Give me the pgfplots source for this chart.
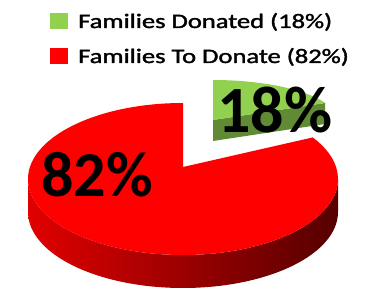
\documentclass[border=0pt]{standalone}
\usepackage{pgfplots}
\pgfplotsset{compat=1.18}
\usepackage{pgfplotstable}
\usepackage{fontspec}
\setmainfont{Carlito}
\newfontfamily\legfont[FakeBold=1.5]{Carlito}
\definecolor{redtop}{RGB}{255,0,0}
\definecolor{redL}{RGB}{225,0,0}
\definecolor{redR}{RGB}{85,0,0}
\definecolor{grntop}{RGB}{146,208,80}
\definecolor{grndark}{RGB}{96,138,52}
\pgfplotstableread{
label value
Donated 18
ToDonate 82
}\piedata
\pgfplotstablegetelem{0}{value}\of\piedata
\let\vA\pgfplotsretval
\pgfplotstablegetelem{1}{value}\of\piedata
\let\vB\pgfplotsretval
% slice boundary angle (true angle on the disc)
\pgfmathsetmacro\angA{90-3.6*\vA}
% perspective: disc centre seen above ellipse centre by d (in units of ry)
\pgfmathsetmacro\dd{0.158}
\pgfmathsetmacro\den{1+\dd*sin(\angA)}
\pgfmathsetmacro\tA{atan2((sin(\angA)+\dd)/\den, sqrt(1-\dd*\dd)*cos(\angA)/\den)}
\pgfmathsetmacro\tB{360+\tA}
\begin{document}
\begin{tikzpicture}
\begin{axis}[width=384pt,height=294pt,scale only axis,
  xmin=0,xmax=384,ymin=0,ymax=294,y dir=reverse,
  axis lines=none,clip=false]
\path (axis cs:0,0) rectangle (axis cs:384,294);
% green exploded slice: cut face then top face
\fill[grndark] (axis cs:213,120) -- ++(\angA:124pt and 40pt) -- ++(0,-21pt) -- (axis cs:213,141) -- cycle;
\fill[grntop] (axis cs:213,120) -- ++(0,40pt) arc[start angle=90,end angle=\angA,x radius=124pt,y radius=40pt] -- cycle;
% red slice side
\shade[left color=redL,right color=redR] (axis cs:28,179) arc[start angle=180,end angle=360,x radius=155pt,y radius=76pt] -- ++(0,-33pt) arc[start angle=360,end angle=180,x radius=155pt,y radius=76pt] -- cycle;
% red slice top
\fill[redtop] (axis cs:183,167) -- (axis cs:183,103) arc[start angle=90,end angle=\tB,x radius=155pt,y radius=76pt] -- cycle;
% labels
\node[font=\fontsize{64}{64}\selectfont\bfseries] at (axis cs:97,175) {\vB\%};
\node[font=\fontsize{66}{66}\selectfont\bfseries] at (axis cs:275,110) {\vA\%};
% legend
\fill[grntop] (axis cs:50,13) rectangle (axis cs:68,29);
\fill[redtop] (axis cs:50,48) rectangle (axis cs:68,64);
\node[anchor=base west,inner sep=0pt,font=\legfont\fontsize{20.6}{24}\selectfont] at (axis cs:78,28) {\scalebox{1.29}[1]{Families Donated (18\%)}};
\node[anchor=base west,inner sep=0pt,font=\legfont\fontsize{20.6}{24}\selectfont] at (axis cs:78,63) {\scalebox{1.29}[1]{Families To Donate (82\%)}};
\end{axis}
\end{tikzpicture}
\end{document}
